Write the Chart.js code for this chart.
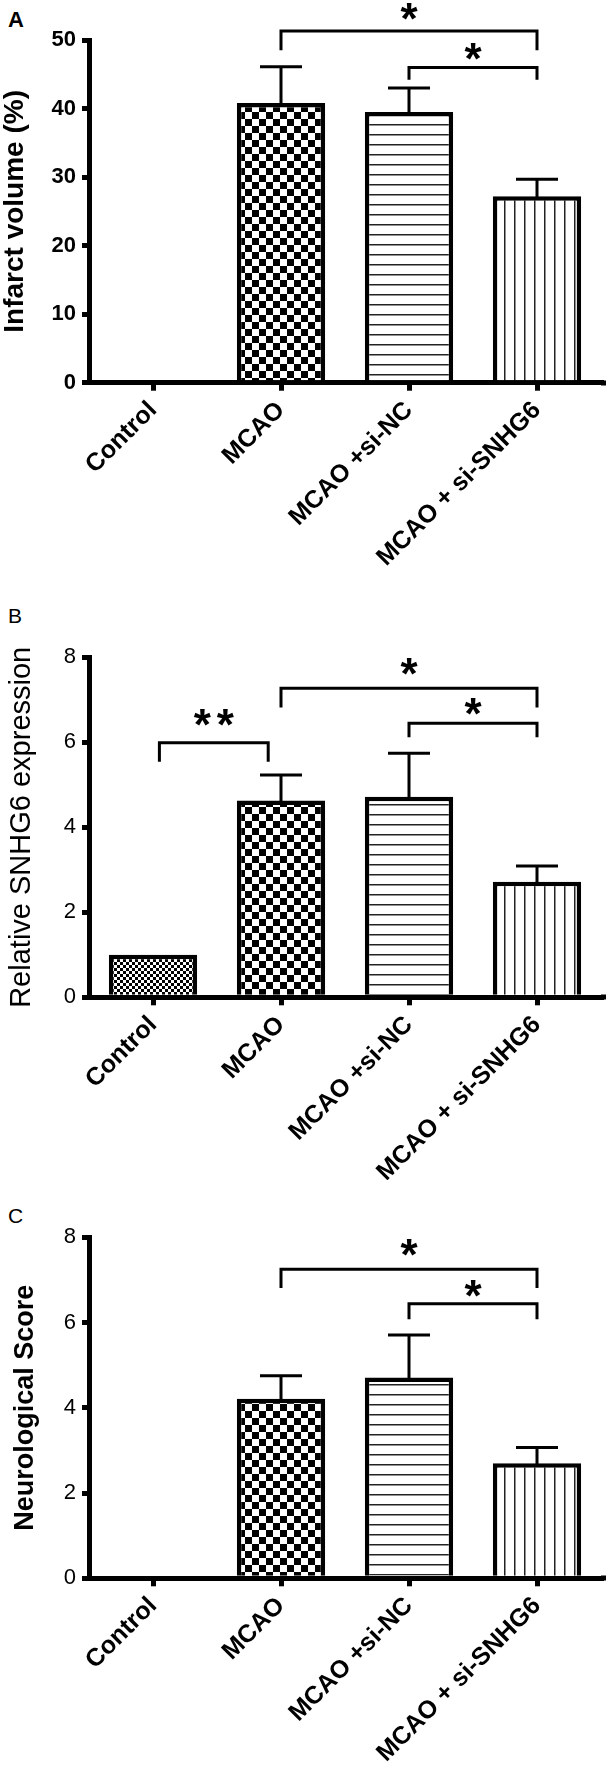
<!DOCTYPE html>
<html>
<head>
<meta charset="utf-8">
<script src="https://cdn.jsdelivr.net/npm/chart.js@4/dist/chart.umd.min.js"></script>
<style>
  body { margin: 0; background: #fff; width: 606px; height: 1769px; position: relative; overflow: hidden;
         font-family: "Liberation Sans", Arial, sans-serif; }
  canvas { position: absolute; left: 0; }
  .tag { position: absolute; left: 8px; font-size: 21px; line-height: 1; color: #000; }
</style>
</head>
<body>
<div class="tag" style="top:9px;font-size:22px;font-weight:bold">A</div>
<div class="tag" style="top:605px">B</div>
<div class="tag" style="top:1205px">C</div>
<canvas id="cA" width="606" height="590" style="top:0"></canvas>
<canvas id="cB" width="606" height="590" style="top:590px"></canvas>
<canvas id="cC" width="606" height="589" style="top:1180px"></canvas>
<script>
var groups = ['Control', 'MCAO', 'MCAO +si-NC', 'MCAO + si-SNHG6'];

var infarctMean = [0, 40.8, 39.5, 27.2];
var infarctSem = [0, 5.3, 3.5, 2.5];
var snhg6Mean = [1.0, 4.63, 4.72, 2.72];
var snhg6Sem = [0, 0.60, 1.02, 0.37];
var scoreMean = [0, 4.21, 4.71, 2.70];
var scoreSem = [0, 0.54, 1.00, 0.37];

// brackets: from group, to group, bracket level, leg end, star level, text
var infarctSig = [[1, 3, 51.3, 48.5, 54.1, '*'], [2, 3, 46.0, 44.2, 48.3, '*']];
var snhg6Sig = [[0.05, 0.9, 5.99, 5.54, 6.59, '**'], [1, 3, 7.27, 6.82, 7.78, '*'], [2, 3, 6.45, 6.12, 6.84, '*']];
var scoreSig = [[1, 3, 7.25, 6.81, 7.75, '*'], [2, 3, 6.44, 6.08, 6.81, '*']];

var infarctTicks = [0, 10, 20, 30, 40, 50];
var eightTicks = [0, 2, 4, 6, 8];

var FONT = "'Liberation Sans', Arial, sans-serif";
Chart.defaults.font.family = FONT;
Chart.defaults.color = '#000';

function tile(w, h, draw) {
  var c = document.createElement('canvas');
  c.width = w; c.height = h;
  var g = c.getContext('2d');
  g.fillStyle = '#fff';
  g.fillRect(0, 0, w, h);
  g.fillStyle = '#000';
  draw(g);
  return g.createPattern(c, 'repeat');
}
var fineCheck = tile(6, 6, function (g) { g.fillRect(0, 0, 3, 3); g.fillRect(3, 3, 3, 3); });
var checker = tile(14, 14, function (g) { g.fillRect(0, 0, 7, 7); g.fillRect(7, 7, 7, 7); });
var hLines = tile(10, 10, function (g) { g.fillStyle = '#222'; g.fillRect(0, 4, 10, 1.5); });
var vLines = tile(10, 10, function (g) { g.fillStyle = '#222'; g.fillRect(4, 0, 1.5, 10); });
var fills = [fineCheck, checker, hLines, vLines];

var errBars = {
  id: 'errBars',
  afterDatasetsDraw: function (chart, args, opts) {
    var ctx = chart.ctx, x = chart.scales.x, y = chart.scales.y;
    var means = chart.data.datasets[0].data;
    ctx.save();
    ctx.strokeStyle = '#000';
    ctx.lineWidth = 3;
    opts.sems.forEach(function (e, i) {
      if (!e) return;
      var px = x.getPixelForValue(i);
      var y0 = y.getPixelForValue(means[i]) + 2, y1 = y.getPixelForValue(means[i] + e);
      ctx.beginPath();
      ctx.moveTo(px, y0); ctx.lineTo(px, y1);
      ctx.moveTo(px - 21, y1); ctx.lineTo(px + 21, y1);
      ctx.stroke();
    });
    ctx.restore();
  }
};

var sigMarks = {
  id: 'sigMarks',
  afterDatasetsDraw: function (chart, args, opts) {
    var ctx = chart.ctx, x = chart.scales.x, y = chart.scales.y;
    ctx.save();
    ctx.strokeStyle = '#000';
    ctx.fillStyle = '#000';
    ctx.lineWidth = 3;
    ctx.font = 'bold 44px ' + FONT;
    ctx.textAlign = 'center';
    opts.marks.forEach(function (s) {
      var xa = x.getPixelForValue(s[0]), xb = x.getPixelForValue(s[1]);
      var yt = y.getPixelForValue(s[2]), yl = y.getPixelForValue(s[3]);
      ctx.beginPath();
      ctx.moveTo(xa, yl); ctx.lineTo(xa, yt); ctx.lineTo(xb, yt); ctx.lineTo(xb, yl);
      ctx.stroke();
      var m = ctx.measureText('*');
      var ys = y.getPixelForValue(s[4]) + (m.actualBoundingBoxAscent - m.actualBoundingBoxDescent) / 2;
      var n = s[5].length, gap = 23;
      for (var k = 0; k < n; k++) {
        ctx.fillText('*', (xa + xb) / 2 + (k - (n - 1) / 2) * gap, ys);
      }
    });
    ctx.restore();
  }
};

// axis title, drawn here so it is not squeezed to the plot height
var yTitle = {
  id: 'yTitle',
  afterDraw: function (chart, args, o) {
    var ctx = chart.ctx, a = chart.chartArea;
    ctx.save();
    ctx.font = o.font;
    ctx.fillStyle = '#000';
    ctx.textAlign = 'center';
    ctx.textBaseline = 'alphabetic';
    var m = ctx.measureText(o.text);
    ctx.translate(o.x, (a.top + a.bottom) / 2);
    ctx.rotate(-Math.PI / 2);
    ctx.fillText(o.text, 0, (m.actualBoundingBoxAscent - m.actualBoundingBoxDescent) / 2);
    ctx.restore();
  }
};

// x axis runs on to the right edge, as in the figure
var axisRun = {
  id: 'axisRun',
  afterDraw: function (chart) {
    var a = chart.chartArea, ctx = chart.ctx;
    ctx.save();
    ctx.fillStyle = '#000';
    ctx.fillRect(a.right, Math.round(a.bottom) - 2.5, chart.width - a.right, 5);
    ctx.restore();
  }
};

function panel(id, means, sems, sig, ticks, title, o) {
  return new Chart(document.getElementById(id), {
    type: 'bar',
    data: {
      labels: groups,
      datasets: [{
        data: means,
        backgroundColor: fills,
        borderColor: '#000',
        borderWidth: 4.5,
        borderSkipped: 'start',
        barPercentage: 0.69,
        categoryPercentage: 1
      }]
    },
    options: {
      responsive: false,
      animation: false,
      layout: { padding: { top: o.top, right: 5, bottom: 0, left: 0 } },
      plugins: {
        legend: { display: false },
        tooltip: { enabled: false },
        errBars: { sems: sems },
        sigMarks: { marks: sig },
        yTitle: { text: title, x: o.titleX, font: o.titleFont }
      },
      scales: {
        x: {
          grid: { drawOnChartArea: false, offset: false, color: '#000', lineWidth: 5, tickLength: 8 },
          border: { color: '#000', width: 5 },
          ticks: { autoSkip: false, minRotation: 45, maxRotation: 45, padding: 5,
                   font: { size: 25, weight: 'bold' } },
          afterFit: function (s) { s.height = o.h - o.bottom; }
        },
        y: {
          min: 0,
          max: ticks[ticks.length - 1],
          afterBuildTicks: function (s) { s.ticks = ticks.map(function (v) { return { value: v }; }); },
          grid: { drawOnChartArea: false, color: '#000', lineWidth: 5, tickLength: 7 },
          border: { color: '#000', width: 5 },
          ticks: { padding: 6, font: { size: o.tickSize, weight: o.tickWeight } },
          afterFit: function (s) { s.width = 89; }
        }
      }
    },
    plugins: [errBars, sigMarks, yTitle, axisRun]
  });
}

panel('cA', infarctMean, infarctSem, infarctSig, infarctTicks, 'Infarct volume (%)',
  { top: 40, bottom: 382.7, h: 590, tickSize: 22, tickWeight: 'bold', titleX: 16.4, titleFont: 'bold 28px ' + FONT });
panel('cB', snhg6Mean, snhg6Sem, snhg6Sig, eightTicks, 'Relative SNHG6 expression',
  { top: 67.3, bottom: 407.3, h: 590, tickSize: 22, tickWeight: 'normal', titleX: 22.2, titleFont: '29px ' + FONT });
panel('cC', scoreMean, scoreSem, scoreSig, eightTicks, 'Neurological Score',
  { top: 57.3, bottom: 398.3, h: 589, tickSize: 22, tickWeight: 'normal', titleX: 26, titleFont: 'bold 27px ' + FONT });
</script>
</body>
</html>
